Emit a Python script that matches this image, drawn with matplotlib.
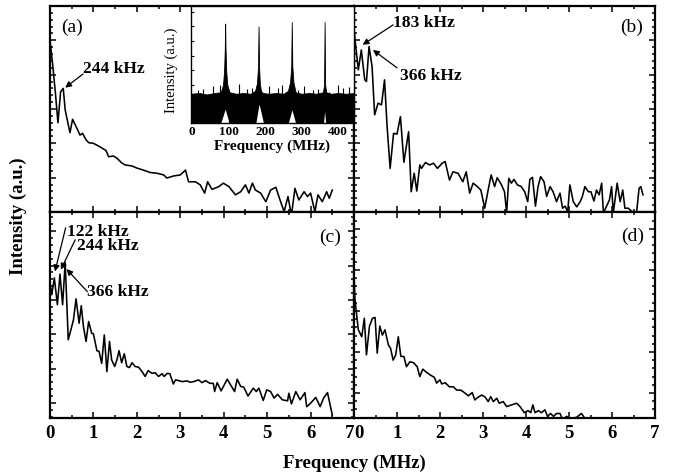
import matplotlib
matplotlib.use("Agg")
import matplotlib.pyplot as plt
from matplotlib.ticker import MultipleLocator

plt.rcParams['font.family'] = 'Liberation Serif'

# ---- panel (a) ----
freq_a = [0, 0.061, 0.122, 0.183, 0.244, 0.305, 0.35, 0.46, 0.52, 0.63, 0.69, 0.75,
          0.83, 0.89, 1.0, 1.15, 1.29, 1.35, 1.46, 1.54, 1.65, 1.73, 1.89, 2.0, 2.15,
          2.31, 2.46, 2.62, 2.69, 2.85, 3.0, 3.12, 3.19, 3.35, 3.46, 3.56, 3.63, 3.73,
          3.89, 3.99, 4.12, 4.27, 4.39, 4.5, 4.58, 4.66, 4.73, 4.85, 4.97, 5.08, 5.2,
          5.27, 5.39, 5.48, 5.56, 5.64, 5.73, 5.85, 5.93, 6.0, 6.1, 6.17, 6.27, 6.37,
          6.43, 6.5]
int_a = [5.0, 4.3, 3.5, 2.6, 3.5, 3.6, 2.97, 2.31, 2.7, 2.41, 2.24, 2.29,
         2.1, 2.02, 2.0, 1.9, 1.79, 1.61, 1.63, 1.57, 1.43, 1.37, 1.34, 1.28, 1.22,
         1.15, 1.13, 1.08, 0.99, 1.05, 1.08, 1.22, 0.88, 0.88, 0.79, 0.55, 0.88, 0.66,
         0.74, 0.84, 0.74, 0.5, 0.59, 0.79, 0.55, 0.84, 0.64, 0.55, 0.3, 0.64, 0.72,
         0.45, 0.01, 0.45, -0.1, 0.69, 0.35, 0.59, 0.45, 0.55, 0.01, 0.5, 0.3, 0.59,
         0.4, 0.64]

# ---- panel (b) ----
freq_b = [0, 0.05, 0.1, 0.17, 0.25, 0.29, 0.35, 0.42, 0.48, 0.56, 0.64, 0.71, 0.77,
          0.84, 0.92, 1.0, 1.08, 1.16, 1.27, 1.33, 1.4, 1.46, 1.53, 1.57, 1.66, 1.76,
          1.85, 1.94, 2.05, 2.12, 2.22, 2.3, 2.42, 2.53, 2.61, 2.69, 2.77, 2.87, 2.95,
          3.04, 3.12, 3.19, 3.27, 3.33, 3.43, 3.5, 3.55, 3.6, 3.66, 3.72, 3.8, 3.89,
          3.97, 4.04, 4.09, 4.15, 4.22, 4.28, 4.34, 4.42, 4.48, 4.56, 4.63, 4.71, 4.79,
          4.85, 4.91, 4.97, 5.02, 5.1, 5.18, 5.26, 5.31, 5.37, 5.45, 5.51, 5.58, 5.64,
          5.7, 5.76, 5.8, 5.94, 5.99, 6.03, 6.12, 6.19, 6.25, 6.3, 6.38, 6.44, 6.5,
          6.57, 6.63, 6.67, 6.72]
int_b = [5.3, 4.72, 4.14, 4.72, 3.85, 3.8, 4.82, 4.24, 2.83, 3.17, 3.12, 3.85, 2.49,
         1.27, 2.29, 2.27, 2.78, 1.45, 2.34, 0.59, 1.13, 0.61, 1.37, 1.27, 1.44, 1.37,
         1.42, 1.27, 1.42, 1.47, 0.93, 1.17, 1.13, 0.88, 1.17, 0.55, 0.84, 0.74, 0.64,
         0.11, 0.64, 1.08, 0.74, 1.0, 0.79, 0.59, -0.02, 0.98, 0.84, 0.95, 0.79, 0.74,
         0.59, 0.3, 0.95, 1.01, 0.17, 0.74, 1.03, 0.88, 0.45, 0.74, 0.59, 0.3, 0.55,
         0.11, 0.17, 0.01, 0.79, 0.3, 0.15, 0.3, 0.45, 0.74, 0.59, 0.59, 0.32, 0.64,
         0.5, 0.84, -0.03, 0.35, 0.74, -0.03, 0.84, 0.3, 0.64, 0.11, 0.11, 0.04, -0.03,
         -0.03, 0.69, 0.74, 0.5]

# ---- panel (c) ----
freq_c = [0, 0.04, 0.1, 0.17, 0.23, 0.29, 0.35, 0.42, 0.5, 0.54, 0.6, 0.67, 0.72,
          0.77, 0.83, 0.89, 0.96, 1.0, 1.08, 1.13, 1.19, 1.25, 1.31, 1.37, 1.42, 1.49,
          1.54, 1.59, 1.65, 1.71, 1.77, 1.83, 1.89, 1.96, 2.04, 2.12, 2.19, 2.26, 2.35,
          2.42, 2.5, 2.58, 2.63, 2.7, 2.76, 2.84, 2.89, 2.96, 3.04, 3.16, 3.23, 3.31,
          3.42, 3.5, 3.58, 3.68, 3.76, 3.79, 3.85, 3.94, 4.08, 4.16, 4.25, 4.31, 4.39,
          4.46, 4.56, 4.68, 4.75, 4.81, 4.91, 4.99, 5.08, 5.16, 5.24, 5.35, 5.47, 5.5,
          5.56, 5.66, 5.76, 5.87, 5.91, 6.0, 6.12, 6.22, 6.3, 6.39, 6.5]
int_c = [3.5, 3.15, 3.64, 2.86, 3.75, 2.86, 4.09, 1.84, 2.22, 2.42, 3.03, 2.32, 2.83,
         2.22, 1.79, 2.37, 2.03, 2.01, 1.52, 1.5, 1.15, 1.98, 0.91, 1.79, 1.25, 1.06,
         1.25, 1.52, 1.17, 1.43, 1.06, 1.03, 1.17, 1.06, 1.04, 0.91, 0.77, 0.94, 0.86,
         0.88, 0.77, 0.85, 0.77, 0.86, 0.85, 0.55, 0.67, 0.65, 0.62, 0.64, 0.6, 0.62,
         0.67, 0.59, 0.65, 0.57, 0.57, 0.33, 0.59, 0.35, 0.69, 0.52, 0.33, 0.69, 0.48,
         0.46, 0.2, 0.43, 0.33, 0.43, 0.07, 0.38, 0.33, 0.14, 0.25, 0.09, 0.06, 0.28,
         -0.03, 0.33, 0.09, 0.3, -0.11, -0.01, 0.16, -0.11, 0.14, 0.3, -0.35]

# ---- panel (d) ----
freq_d = [0, 0.02, 0.1, 0.18, 0.24, 0.29, 0.36, 0.43, 0.49, 0.54, 0.6, 0.66, 0.72,
          0.8, 0.85, 0.91, 0.97, 1.03, 1.09, 1.16, 1.22, 1.3, 1.38, 1.47, 1.53, 1.6,
          1.69, 1.77, 1.87, 1.92, 2.0, 2.04, 2.12, 2.22, 2.31, 2.39, 2.48, 2.54, 2.66,
          2.75, 2.81, 2.89, 2.97, 3.05, 3.12, 3.18, 3.24, 3.32, 3.38, 3.47, 3.55, 3.67,
          3.78, 3.86, 3.96, 4.05, 4.11, 4.16, 4.21, 4.29, 4.36, 4.44, 4.5, 4.57, 4.64,
          4.71, 4.79, 4.85, 4.95, 5.02, 5.18, 5.29, 5.37, 5.49]
int_d = [2.96, 2.31, 1.54, 1.37, 1.82, 0.93, 1.63, 1.82, 1.84, 0.97, 1.63, 1.41, 1.54,
         1.17, 1.09, 0.8, 0.93, 1.37, 0.89, 0.89, 0.64, 0.76, 0.74, 0.64, 0.4, 0.58,
         0.5, 0.44, 0.38, 0.24, 0.32, 0.22, 0.25, 0.15, 0.15, 0.07, 0.07, 0.03, -0.07,
         0.01, -0.17, -0.1, -0.05, -0.1, -0.21, -0.09, -0.21, -0.13, -0.25, -0.21, -0.33,
         -0.29, -0.25, -0.33, -0.48, -0.43, -0.48, -0.29, -0.48, -0.43, -0.48, -0.41,
         -0.57, -0.5, -0.57, -0.5, -0.5, -0.64, -0.57, -0.64, -0.59, -0.5, -0.62, -0.62]

# ---- inset: RF spectrum ----
band_f = [-5, 20, 40, 60, 78, 84, 87, 89, 90, 91, 93, 96, 102, 120, 140, 160, 172,
          177, 180, 181.5, 183, 185, 188, 193, 210, 230, 250, 262, 268, 271, 272.5,
          274, 277, 283, 300, 320, 340, 358, 361, 362.5, 364, 367, 380, 400, 420, 445]
band_top = [1.4, 1.45, 1.35, 1.45, 1.5, 2.0, 2.9, 4.5, 6.2, 4.5, 2.9, 2.0, 1.5, 1.4,
            1.45, 1.4, 1.6, 2.1, 3.2, 6.0, 3.2, 2.1, 1.6, 1.45, 1.4, 1.45, 1.4, 1.6,
            2.2, 3.3, 6.3, 3.3, 2.2, 1.5, 1.4, 1.45, 1.4, 1.5, 2.0, 6.3, 2.0, 1.5, 1.4,
            1.45, 1.4, 1.45]
notch_f = [78, 90, 101, 174, 183, 195, 263, 273, 283, 359.5, 362.5, 365.5]
notch_bottom = [-0.6, 0.35, -0.6, -0.6, 0.7, -0.6, -0.6, 0.3, -0.6, -0.6, 0.2, -0.6]
spike_f = [16, 28, 57, 76, 129, 149, 163, 211, 236, 245, 290, 306, 331, 345, 375,
           400, 414, 430]
spike_h = [1.63, 1.75, 1.9, 1.97, 2.09, 1.75, 1.82, 1.9, 1.82, 1.97, 1.63, 1.9, 1.63,
           1.75, 1.5, 1.97, 1.82, 1.86]

x_ticks = [0, 1, 2, 3, 4, 5, 6, 7]

W, H = 674, 475
fig = plt.figure(figsize=(W / 100, H / 100), dpi=100)


def box(x0, y0, x1, y1):
    return [x0 / W, 1 - y1 / H, (x1 - x0) / W, (y1 - y0) / H]


ax_a = fig.add_axes(box(50, 6, 354, 212))
ax_b = fig.add_axes(box(354, 6, 655, 212))
ax_c = fig.add_axes(box(50, 212, 354, 418))
ax_d = fig.add_axes(box(354, 212, 655, 418))

panels = [
    (ax_a, freq_a, int_a, (0, 6), '(a)', (0.074, 0.896)),
    (ax_b, freq_b, int_b, (0, 6), '(b)', (0.922, 0.896)),
    (ax_c, freq_c, int_c, (-0.44, 5.56), '(c)', (0.92, 0.876)),
    (ax_d, freq_d, int_d, (-0.61, 4.41), '(d)', (0.925, 0.881)),
]

for ax, f, y, ylim, tag, tagpos in panels:
    ax.plot(f, y, color='k', lw=1.15)
    ax.set_xlim(0, 7)
    ax.set_ylim(*ylim)
    ax.xaxis.set_major_locator(MultipleLocator(1))
    ax.xaxis.set_minor_locator(MultipleLocator(0.5))
    ax.yaxis.set_major_locator(MultipleLocator(1))
    ax.yaxis.set_minor_locator(MultipleLocator(0.2))
    ax.tick_params(which='both', direction='in', top=True, right=True,
                   labelleft=False, width=1.1)
    ax.tick_params(which='major', length=4.5)
    ax.tick_params(which='minor', length=2.2)
    for s in ax.spines.values():
        s.set_linewidth(1.6)
    ax.text(*tagpos, tag, transform=ax.transAxes, ha='center', va='center',
            fontsize=14)

for ax in (ax_a, ax_b):
    ax.tick_params(labelbottom=False)

for ax in (ax_c, ax_d):
    ax.set_xticks(x_ticks)
    ax.set_xticklabels([str(t) for t in x_ticks], fontsize=13.5, fontweight='bold')
    ax.tick_params(axis='x', pad=5)
ax_c.get_xticklabels()[-1].set_ha('right')
ax_d.get_xticklabels()[0].set_ha('left')

arrow = dict(arrowstyle='-|>', color='k', lw=0.9, mutation_scale=9,
             shrinkA=0, shrinkB=0)
note = dict(fontsize=12.5, fontweight='bold', ha='left', va='center')

ax_a.text(0.76, 4.17, '244 kHz', **note)
ax_a.annotate('', xy=(0.35, 3.62), xytext=(0.76, 4.02), arrowprops=arrow)

ax_b.text(0.91, 5.51, '183 kHz', **note)
ax_b.annotate('', xy=(0.2, 4.87), xytext=(0.91, 5.45), arrowprops=arrow)
ax_b.text(1.07, 3.97, '366 kHz', **note)
ax_b.annotate('', xy=(0.44, 4.72), xytext=(1.0, 4.2), arrowprops=arrow)

ax_c.text(0.39, 4.99, '122 kHz', **note)
ax_c.annotate('', xy=(0.115, 3.83), xytext=(0.36, 5.1), arrowprops=arrow)
ax_c.text(0.62, 4.56, '244 kHz', **note)
ax_c.annotate('', xy=(0.25, 3.88), xytext=(0.58, 4.75), arrowprops=arrow)
ax_c.text(0.86, 3.22, '366 kHz', **note)
ax_c.annotate('', xy=(0.38, 3.9), xytext=(0.86, 3.24), arrowprops=arrow)

# inset with the full RF spectrum
ins = fig.add_axes(box(190.7, 6, 354, 123))
ins.fill_between(band_f, -0.6, band_top, color='k', lw=0.6, edgecolor='k')
ins.fill_between(notch_f, -0.6, notch_bottom, color='white', lw=0)
ins.vlines(spike_f, 1.2, spike_h, color='k', lw=0.8)
ins.set_xlim(-4.4, 443)
ins.set_ylim(-0.6, 7.4)
ins.set_xticks([0, 100, 200, 300, 400])
ins.set_xticklabels(['0', '100', '200', '300', '400'], fontsize=9.5, fontweight='bold')
ins.yaxis.set_major_locator(MultipleLocator(1))
ins.tick_params(which='both', direction='in', labelleft=False, length=2.5,
                width=0.8, pad=2)
for s in ins.spines.values():
    s.set_linewidth(1.0)
ins.set_xlabel('Frequency (MHz)', fontsize=11, fontweight='bold', labelpad=1)
ins.set_ylabel('Intensity (a.u.)', fontsize=10.5)
ins.yaxis.set_label_coords(-0.08, 0.45)

fig.text(354 / W, 1 - 463 / H, 'Frequency (MHz)', ha='center', va='center',
         fontsize=13.5, fontweight='bold')
fig.text(18 / W, 1 - 216 / H, 'Intensity (a.u.)', ha='center', va='center',
         rotation=90, fontsize=13.5, fontweight='bold')

fig.savefig('out.png', dpi=100)
